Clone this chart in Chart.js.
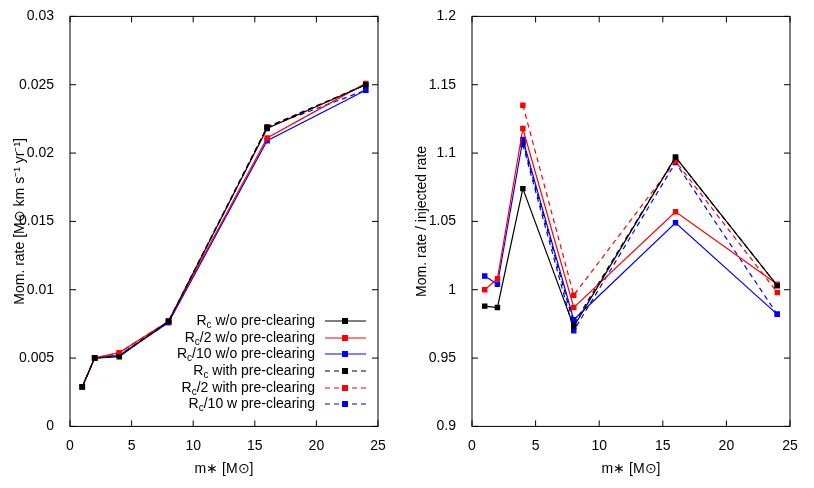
<!DOCTYPE html>
<html><head><meta charset="utf-8">
<script src="https://cdn.jsdelivr.net/npm/chart.js@4"></script>
<style>
body{margin:0;background:#fff;width:814px;height:488px;position:relative;overflow:hidden}
canvas{position:absolute;top:0}
</style></head><body>
<div style="position:absolute;left:0;top:0;width:407px;height:488px"><canvas id="izq"></canvas></div>
<div style="position:absolute;left:407px;top:0;width:407px;height:488px"><canvas id="der"></canvas></div>
<script>
// masas (x)
const masas = [1, 2, 4, 8, 16, 24]
// panel izquierdo: tasa de momento
const rcSin = [0.0029, 0.0050, 0.0051, 0.0077, 0.0218, 0.0250]
const rc2Sin = [0.0029, 0.0050, 0.0054, 0.0077, 0.0211, 0.0251]
const rc10Sin = [0.0029, 0.0050, 0.0052, 0.0076, 0.0209, 0.0246]
const rcCon = [0.0029, 0.0050, 0.0052, 0.0077, 0.0219, 0.0250]
const rc2Con = [0.0029, 0.0050, 0.0054, 0.0077, 0.0219, 0.0250]
const rc10Con = [0.0029, 0.0050, 0.0052, 0.0076, 0.0219, 0.0246]
// panel derecho: tasa / tasa inyectada
const rRcSin = [0.988, 0.987, 1.074, 0.973, 1.097, 1.003]
const rRc2Sin = [1.000, 1.008, 1.118, 0.987, 1.057, 1.004]
const rRc10Sin = [1.010, 1.004, 1.110, 0.978, 1.049, 0.982]
const rRcCon = [null, null, 1.108, 0.975, 1.097, 1.003]
const rRc2Con = [null, null, 1.135, 0.996, 1.094, 0.998]
const rRc10Con = [null, null, 1.106, 0.970, 1.093, 0.982]

const etiquetas = [
  ['R', 'c', ' w/o pre-clearing'],
  ['R', 'c', '/2 w/o pre-clearing'],
  ['R', 'c', '/10 w/o pre-clearing'],
  ['R', 'c', ' with pre-clearing'],
  ['R', 'c', '/2 with pre-clearing'],
  ['R', 'c', '/10 w pre-clearing']
]
const colores = ['#000000', '#ff0000', '#0000ff', '#000000', '#ff0000', '#0000ff']
const fuente = 'Liberation Sans, Arial, sans-serif'

const serie = (datos, i) => ({
  data: masas.map((m, k) => ({x: m, y: datos[k]})),
  borderColor: colores[i], backgroundColor: colores[i],
  borderWidth: 1.2, borderDash: i > 2 ? [5, 4] : [],
  pointStyle: 'rect', pointRadius: 3, tension: 0, spanGaps: false
})

// marco y ticks hacia adentro
const marco = {
  id: 'marco',
  afterDraw(chart) {
    const {ctx, chartArea: a, scales} = chart
    ctx.save()
    ctx.strokeStyle = '#000'
    ctx.lineWidth = 1
    ctx.strokeRect(a.left, a.top, a.right - a.left, a.bottom - a.top)
    scales.x.ticks.forEach(t => {
      const px = scales.x.getPixelForValue(t.value)
      ctx.beginPath(); ctx.moveTo(px, a.bottom); ctx.lineTo(px, a.bottom - 6)
      ctx.moveTo(px, a.top); ctx.lineTo(px, a.top + 6); ctx.stroke()
    })
    scales.y.ticks.forEach(t => {
      const py = scales.y.getPixelForValue(t.value)
      ctx.beginPath(); ctx.moveTo(a.left, py); ctx.lineTo(a.left + 6, py)
      ctx.moveTo(a.right, py); ctx.lineTo(a.right - 6, py); ctx.stroke()
    })
    ctx.restore()
  }
}

const leyenda = {
  id: 'leyenda',
  afterDraw(chart) {
    const ctx = chart.ctx
    ctx.save()
    const ys = [321, 338, 354, 371, 388, 404]
    etiquetas.forEach((e, i) => {
      const y = ys[i]
      ctx.font = '14px ' + fuente
      ctx.fillStyle = '#000'
      ctx.textBaseline = 'middle'
      ctx.textAlign = 'left'
      const wR = ctx.measureText(e[0]).width
      ctx.font = '10px ' + fuente
      const wS = ctx.measureText(e[1]).width
      ctx.font = '14px ' + fuente
      const wT = ctx.measureText(e[2]).width
      let x = 315 - wR - wS - wT
      ctx.fillText(e[0], x, y); x += wR
      ctx.font = '10px ' + fuente
      ctx.fillText(e[1], x, y + 4); x += wS
      ctx.font = '14px ' + fuente
      ctx.fillText(e[2], x, y)
      ctx.strokeStyle = colores[i]; ctx.lineWidth = 1.2
      ctx.setLineDash(i > 2 ? [5, 4] : [])
      ctx.beginPath(); ctx.moveTo(325, y); ctx.lineTo(366, y); ctx.stroke()
      ctx.fillStyle = colores[i]
      ctx.fillRect(342, y - 3, 6, 6)
    })
    ctx.restore()
  }
}

const opciones = (ymin, ymax, paso, titulo, padL, padR) => ({
  responsive: true, maintainAspectRatio: false, animation: false,
  layout: {padding: {left: padL, right: padR, top: 11, bottom: 10}},
  plugins: {legend: {display: false}, tooltip: {enabled: false}},
  scales: {
    x: {
      type: 'linear', min: 0, max: 25,
      grid: {display: false}, border: {display: false},
      ticks: {stepSize: 5, color: '#000', font: {size: 14, family: fuente}, padding: 3},
      title: {display: true, text: 'm\u2217 [M\u2299]', color: '#000', font: {size: 14, family: fuente}, padding: {top: 4, bottom: 0}}
    },
    y: {
      min: ymin, max: ymax,
      grid: {display: false}, border: {display: false},
      afterFit: s => { s.width = 62 },
      ticks: {stepSize: paso, color: '#000', font: {size: 14, family: fuente}, padding: 8,
        callback: v => limpiar(v)},
      title: {display: true, text: titulo, color: '#000', font: {size: 14, family: fuente}, padding: {bottom: 0}}
    }
  }
})

const limpiar = v => String(parseFloat(v.toFixed(3)))

new Chart(document.getElementById('izq'), {
  type: 'line',
  data: {datasets: [rcSin, rc2Sin, rc10Sin, rcCon, rc2Con, rc10Con].map(serie)},
  options: opciones(0, 0.03, 0.005, 'Mom. rate [M\u2299 km s\u207B\u00B9 yr\u207B\u00B9]', 8, 29),
  plugins: [marco, leyenda]
})

new Chart(document.getElementById('der'), {
  type: 'line',
  data: {datasets: [rRcSin, rRc2Sin, rRc10Sin, rRcCon, rRc2Con, rRc10Con].map(serie)},
  options: opciones(0.9, 1.2, 0.05, 'Mom. rate / injected rate', 3, 24),
  plugins: [marco]
})
</script>
</body></html>
